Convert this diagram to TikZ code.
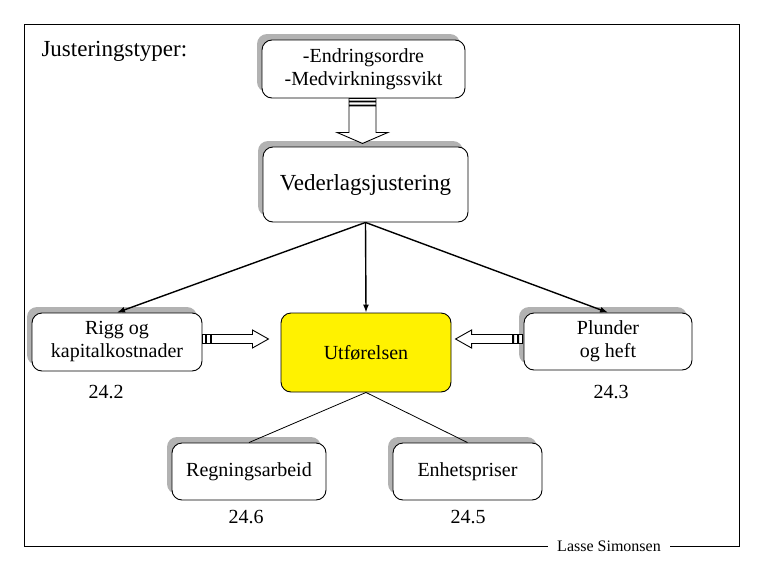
\documentclass[tikz,border=0pt]{standalone}
\usepackage{fontspec}
\setmainfont{Liberation Serif}
\usetikzlibrary{arrows.meta, positioning, shadows}

\begin{document}
\begin{tikzpicture}[
    x=1pt, y=-1pt,
    box/.style={draw, line width=0.9pt, rounded corners=10pt, fill=white,
                align=center, font=\fontsize{20}{23}\selectfont, inner sep=2pt},
    sbox/.style={box, drop shadow={shadow xshift=-5pt, shadow yshift=6pt,
                 fill=black!30, opacity=1}},
    num/.style={font=\fontsize{20}{23}\selectfont},
    arr/.style={-{Latex[length=8pt, width=6pt]}, line width=1.4pt},
    lnk/.style={line width=0.8pt},
    blockarr/.style={draw, line width=0.9pt, fill=white}
  ]
  \useasboundingbox (0,0) rectangle (765,570);
  \draw[line width=0.9pt] (24,24) rectangle (739,546);

  \node[anchor=base west, font=\fontsize{23}{26}\selectfont] (title) at (38,56) {Justeringstyper:};
  \node[fill=white, inner xsep=9pt, font=\fontsize{16}{18}\selectfont] (author) at (609,546) {Lasse Simonsen};

  \node[sbox, minimum width=203pt, minimum height=58pt] (typer) at (363.5,69) {-Endringsordre\\-Medvirkningssvikt};
  \node[sbox, minimum width=205pt, minimum height=75pt, font=\fontsize{23}{26}\selectfont] (veder) at (365.5,184.5) {Vederlagsjustering};

  \node[sbox, minimum width=170pt, minimum height=58pt] (rigg) at (117,342) {Rigg og\\kapitalkostnader};
  \node[box, fill=yellow, minimum width=170pt, minimum height=79pt] (utf) at (366,352.5) {Utførelsen};
  \node[sbox, minimum width=168pt, minimum height=57pt] (plunder) at (608,341.5) {Plunder\\og heft};

  \node[sbox, minimum width=154pt, minimum height=57pt] (regn) at (249,471.5) {Regningsarbeid};
  \node[sbox, minimum width=149pt, minimum height=57pt] (enhet) at (467.5,471.5) {Enhetspriser};

  \node[num] (n242) at (106,392) {24.2};
  \node[num] (n243) at (611,392) {24.3};
  \node[num] (n246) at (246,517) {24.6};
  \node[num] (n245) at (468,517) {24.5};

  \draw[arr] (veder.south) -- (rigg.north);
  \draw[arr] (veder.south) -- (utf.north);
  \draw[arr] (veder.south) -- (plunder.north);
  \draw[lnk] (utf.south) -- (regn.north);
  \draw[lnk] (utf.south) -- (enhet.north);

  % striped block arrows
  \coordinate (s1) at ([xshift=-1pt]typer.south);
  \draw[blockarr] (s1) ++(-13.5,0) rectangle ++(27,2.5)
    (s1) ++(-13.5,3.5) rectangle ++(27,3)
    (s1) ++(-13.5,7.5) -- ++(0,26.5) -- ++(-12,0) -- ++(25.5,11) -- ++(25.5,-11)
      -- ++(-12,0) -- ++(0,-26.5) -- cycle;

  \coordinate (s2) at ([yshift=3pt]rigg.east);
  \draw[blockarr] (s2) ++(0,-4.5) rectangle ++(3,9)
    (s2) ++(4,-4.5) rectangle ++(4,9)
    (s2) ++(9,-4.5) -- ++(41,0) -- ++(0,-4.5) -- ++(16,9) -- ++(-16,9)
      -- ++(0,-4.5) -- ++(-41,0) -- cycle;

  \coordinate (s3) at ([yshift=2.5pt]plunder.west);
  \draw[blockarr] (s3) ++(-1,-4.5) rectangle ++(-4,9)
    (s3) ++(-6,-4.5) rectangle ++(-4,9)
    (s3) ++(-11,-4.5) -- ++(-41,0) -- ++(0,-4.5) -- ++(-16,9) -- ++(16,9)
      -- ++(0,-4.5) -- ++(41,0) -- cycle;
\end{tikzpicture}
\end{document}
